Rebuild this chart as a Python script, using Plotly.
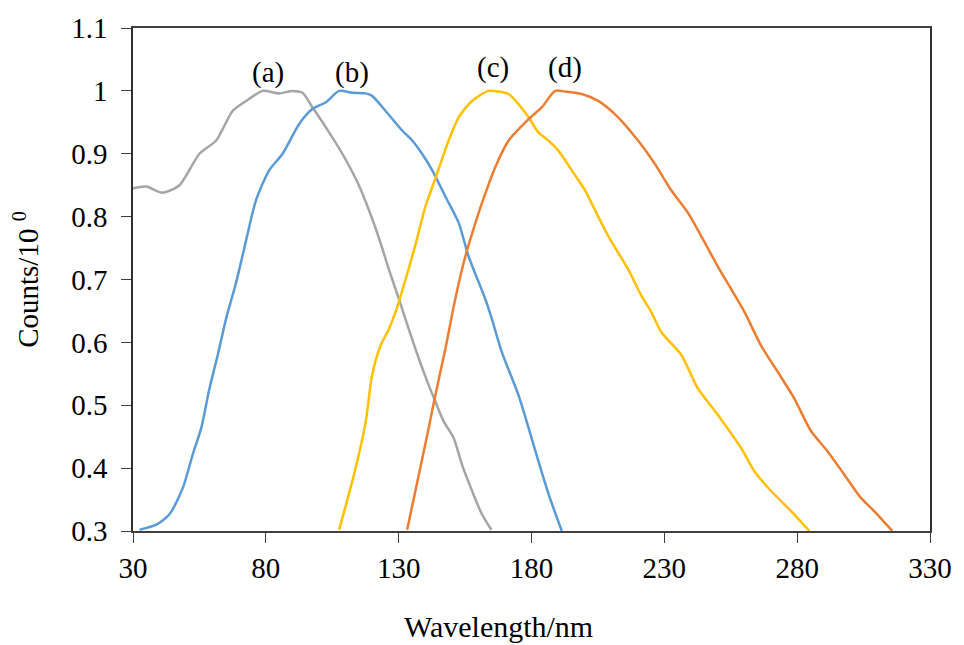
import plotly.graph_objects as go

# (a) gray
a_x = [30, 35, 41, 47.5, 55, 61.3, 67.5, 72.6, 78.8, 85, 90, 93.8, 97.5, 102.6, 108.8, 115, 120,
       123.8, 126.3, 130.1, 133.8, 137.6, 141.3, 143.8, 147, 150.7, 153.8, 157.6, 161.3, 164.9]
a_y = [0.845, 0.848, 0.838, 0.850, 0.90, 0.921, 0.968, 0.984, 1.0, 0.996, 1.0, 0.997, 0.974, 0.942,
       0.90, 0.850, 0.797, 0.750, 0.716, 0.669, 0.621, 0.574, 0.532, 0.506, 0.474, 0.448, 0.406,
       0.364, 0.327, 0.302]
# (b) blue
b_x = [32.5, 38.8, 43.8, 48.8, 52.5, 55.7, 58.8, 61.9, 65.0, 68.8, 71.9, 76.3, 81.3, 86.3, 92.5,
       97.5, 102.6, 107.6, 112.6, 117.6, 120, 125.1, 131.3, 135.1, 138.8, 142.6, 147.6, 152.6,
       156.3, 162.6, 165.1, 168.8, 175.1, 178.9, 182.6, 186.4, 191.4]
b_y = [0.302, 0.31, 0.327, 0.369, 0.422, 0.464, 0.527, 0.580, 0.637, 0.695, 0.750, 0.826, 0.874,
       0.90, 0.947, 0.971, 0.982, 1.0, 0.997, 0.996, 0.992, 0.968, 0.937, 0.921, 0.90, 0.874,
       0.832, 0.79, 0.737, 0.669, 0.637, 0.585, 0.516, 0.464, 0.411, 0.359, 0.30]
# (c) yellow
c_x = [107.6, 113.8, 117.6, 120, 123.2, 126.3, 128.8, 132.6, 136.3, 140, 144.5, 148.8, 152.6,
       157.6, 163.8, 167.6, 171.4, 175.1, 178.9, 182.6, 186.4, 190.1, 195.1, 200.1, 205.1, 208.9,
       216.4, 221.4, 225.1, 228.9, 236.4, 242.6, 250.1, 258.9, 263.9, 270.1, 277.6, 284.6]
c_y = [0.302, 0.40, 0.474, 0.548, 0.595, 0.621, 0.648, 0.700, 0.755, 0.815, 0.869, 0.921, 0.958,
       0.984, 1.0, 0.999, 0.995, 0.979, 0.958, 0.934, 0.921, 0.905, 0.874, 0.842, 0.80, 0.769,
       0.716, 0.674, 0.648, 0.616, 0.580, 0.527, 0.485, 0.432, 0.395, 0.364, 0.332, 0.30]
# (d) orange
d_x = [133.2, 137.6, 141.3, 143.8, 147.6, 151.3, 155.1, 158.9, 161.3, 166.4, 171.4, 178.9, 183.9,
       188.9, 192.6, 198.9, 205.1, 212.6, 220.1, 226.4, 232.6, 238.9, 243.9, 250.1, 255.1, 260.2,
       266.4, 272.7, 278.9, 285.2, 291.4, 297.7, 303.9, 308.9, 315.8]
d_y = [0.302, 0.39, 0.464, 0.516, 0.590, 0.669, 0.737, 0.79, 0.821, 0.879, 0.921, 0.955, 0.974,
       1.0, 0.999, 0.995, 0.984, 0.958, 0.921, 0.884, 0.842, 0.806, 0.769, 0.721, 0.685, 0.648,
       0.595, 0.553, 0.511, 0.459, 0.427, 0.390, 0.353, 0.332, 0.30]

labels = ["(a)", "(b)", "(c)", "(d)"]
label_x = [80.9, 112.3, 165.4, 192.6]
label_y = [1.0295, 1.0295, 1.037, 1.037]

x_ticks = [30, 80, 130, 180, 230, 280, 330]
y_ticks = [0.3, 0.4, 0.5, 0.6, 0.7, 0.8, 0.9, 1.0, 1.1]
y_ticktext = ["0.3", "0.4", "0.5", "0.6", "0.7", "0.8", "0.9", "1", "1.1"]

FONT = "Liberation Serif, Times New Roman, serif"

fig = go.Figure()
series = [(a_x, a_y, "#A5A5A5"), (b_x, b_y, "#5B9BD5"), (c_x, c_y, "#FFC000"), (d_x, d_y, "#ED7D31")]
for (xs, ys, col), name in zip(series, labels):
    fig.add_trace(go.Scatter(x=xs, y=ys, mode="lines", name=name,
                             line=dict(color=col, width=2.5, shape="spline", smoothing=0.7)))

for t, lx, ly in zip(labels, label_x, label_y):
    fig.add_annotation(x=lx, y=ly, text=t, showarrow=False, xanchor="center", yanchor="middle",
                       font=dict(family=FONT, size=29, color="black"))

fig.add_annotation(xref="paper", yref="paper", x=(500 - 133.3) / 799.4, y=-(627 - 530.5) / 507,
                   text="Wavelength/nm", showarrow=False, xanchor="center", yanchor="middle",
                   font=dict(family=FONT, size=30, color="black"))

fig.update_layout(
    width=964, height=645,
    margin=dict(l=133, r=31, t=24, b=114),
    paper_bgcolor="white", plot_bgcolor="white",
    showlegend=False,
    font=dict(family=FONT, size=29, color="black"),
    xaxis=dict(range=[30, 330], tickvals=x_ticks, ticks="outside", ticklen=10, tickwidth=1.3,
               tickcolor="#404040", showline=True, linecolor="#404040", linewidth=1.5, mirror=True,
               showgrid=False, zeroline=False, tickfont=dict(family=FONT, size=29, color="black")),
    yaxis=dict(range=[0.3, 1.1], tickvals=y_ticks, ticktext=y_ticktext, ticks="outside", ticklen=10,
               tickwidth=1.3, tickcolor="#404040", showline=True, linecolor="#303030", linewidth=1.5,
               mirror=True, showgrid=False, zeroline=False, ticklabelstandoff=8,
               tickfont=dict(family=FONT, size=29, color="black"),
               title=dict(text="Counts/10 <sup>0</sup>", font=dict(family=FONT, size=29, color="black"),
                          standoff=24)),
)

fig.write_html("out.html")
